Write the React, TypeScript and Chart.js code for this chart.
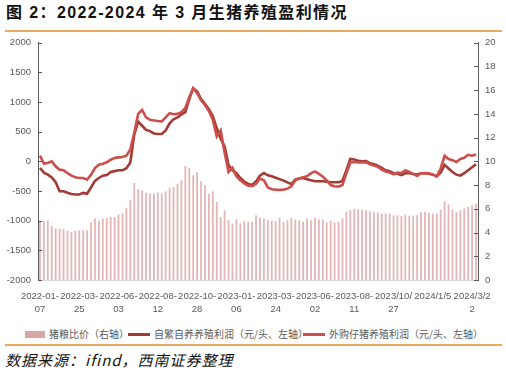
import React, { useEffect, useRef } from 'react';
import { Chart, registerables } from 'chart.js';

Chart.register(...registerables);

// 猪粮比价（右轴）
const pigGrainRatio = [
  4.99, 4.99, 4.99, 4.57, 4.34, 4.34, 4.29, 4.15, 4.06, 4.15,
  4.2, 4.2, 4.2, 4.85, 5.18, 4.99, 5.18, 5.24, 5.32, 5.32,
  5.52, 5.6, 6.08, 6.72, 8.18, 7.65, 7.56, 7.35, 7.28, 7.28,
  7.37, 7.28, 7.48, 7.76, 7.84, 8.12, 8.4, 9.61, 9.44, 8.82,
  9.1, 8.32, 7.98, 7.28, 7.48, 6.6, 5.32, 5.88, 5.04, 4.76,
  5.13, 4.76, 4.96, 4.9, 4.9, 5.46, 5.24, 5.18, 5.04, 4.99,
  4.96, 5.24, 4.9, 5.04, 5.24, 5.1, 5.04, 4.9, 5.18, 5.04,
  5.24, 5.1, 5.1, 4.85, 4.99, 4.85, 4.9, 5.18, 5.74, 5.88,
  6.02, 5.97, 5.94, 5.88, 5.8, 5.74, 5.69, 5.6, 5.6, 5.6,
  5.46, 5.46, 5.38, 5.52, 5.41, 5.41, 5.46, 5.74, 5.74, 5.66,
  5.6, 5.6, 5.94, 6.64, 6.36, 5.94, 5.74, 5.88, 6.02, 6.16,
  6.3, 6.44,
];

// 自繁自养养殖利润（元/头、左轴）
const selfBredProfit = [
  -112, -190, -224, -270, -350, -504, -504, -530, -550, -560,
  -560, -532, -545, -440, -330, -280, -241, -230, -180, -165,
  -151, -151, -115, -20, 450, 672, 600, 530, 510, 470,
  460, 460, 520, 640, 710, 740, 790, 830, 1050, 1230,
  1180, 1050, 970, 880, 760, 560, 380, 250, -60, -150,
  -200, -280, -340, -380, -400, -340, -240, -196, -235, -250,
  -275, -300, -325, -355, -385, -308, -285, -280, -300, -320,
  -336, -336, -336, -345, -353, -353, -353, -330, -150, 40,
  30, 10, 0, 5, -30, -50, -75, -110, -150, -168,
  -200, -210, -230, -200, -200, -213, -220, -200, -200, -210,
  -224, -250, -190, -60, -120, -180, -224, -240, -200, -150,
  -100, -50,
];

// 外购仔猪养殖利润（元/头、左轴）
const purchasedPigletProfit = [
  96, -39, -28, 0, -84, -140, -151, -196, -241, -269,
  -280, -280, -308, -224, -112, -56, -39, -17, 28, 56,
  67, 73, 96, 200, 480, 800, 868, 740, 700, 690,
  680, 672, 740, 812, 795, 800, 830, 900, 1080, 1232,
  1150, 1030, 950, 850, 700, 420, 520, 150, -180, -110,
  -250, -320, -370, -410, -420, -380, -290, -320, -440, -470,
  -476, -480, -476, -460, -420, -320, -290, -270, -250, -200,
  -170, -210, -260, -320, -400, -420, -425, -400, -200, -20,
  -10, -20, -20, -15, -50, -70, -90, -140, -170, -190,
  -220, -190, -196, -150, -180, -210, -245, -200, -196, -200,
  -224, -252, -120, 95, 40, 20, -10, 39, 60, 110,
  95, 115,
];

// x-axis tick labels shown every 10 weeks
const xTickLabels = [
  ['2022-01-', '07'],
  ['2022-03-', '25'],
  ['2022-06-', '03'],
  ['2022-08-', '12'],
  ['2022-10-', '28'],
  ['2023-01-', '06'],
  ['2023-03-', '24'],
  ['2023-06-', '02'],
  ['2023-08-', '11'],
  ['2023/10/', '27'],
  ['2024/1/5'],
  ['2024/3/2', '2'],
];
const tickEvery = 10;

const categories = pigGrainRatio.map((_, i) => `W${i + 1}`);

const legendNames = ['猪粮比价（右轴）', '自繁自养养殖利润（元/头、左轴）', '外购仔猪养殖利润（元/头、左轴）'];

const BAR_COLOR = '#E4B5B4';
const DARK_RED = '#A23A36';
const RED = '#CB4F4A';
const AXIS_TEXT = '#595959';
const FONT = "'Liberation Sans', 'Noto Sans CJK SC', sans-serif";

const innerTicks = {
  id: 'innerTicks',
  afterDraw(chart: any) {
    const { ctx, chartArea, scales } = chart;
    ctx.save();
    ctx.strokeStyle = '#595959';
    ctx.lineWidth = 1;
    const y = scales.y;
    y.ticks.forEach((t: any) => {
      const py = Math.round(y.getPixelForValue(t.value)) + 0.5;
      ctx.beginPath();
      ctx.moveTo(chartArea.left, py);
      ctx.lineTo(chartArea.left + 4, py);
      ctx.stroke();
    });
    const y1 = scales.y1;
    y1.ticks.forEach((t: any) => {
      const py = Math.round(y1.getPixelForValue(t.value)) + 0.5;
      ctx.beginPath();
      ctx.moveTo(chartArea.right - 4, py);
      ctx.lineTo(chartArea.right, py);
      ctx.stroke();
    });
    ctx.restore();
  },
};

export default function App() {
  const canvasRef = useRef<HTMLCanvasElement | null>(null);

  useEffect(() => {
    document.body.style.margin = '0';
    const canvas = canvasRef.current;
    if (!canvas) return;
    const chart = new Chart(canvas, {
      type: 'bar',
      data: {
        labels: categories,
        datasets: [
          {
            type: 'line',
            label: legendNames[2],
            data: purchasedPigletProfit,
            yAxisID: 'y',
            borderColor: RED,
            backgroundColor: RED,
            borderWidth: 2.6,
            pointRadius: 0,
            tension: 0,
            order: 0,
          } as any,
          {
            type: 'line',
            label: legendNames[1],
            data: selfBredProfit,
            yAxisID: 'y',
            borderColor: DARK_RED,
            backgroundColor: DARK_RED,
            borderWidth: 2.6,
            pointRadius: 0,
            tension: 0,
            order: 1,
          } as any,
          {
            type: 'bar',
            label: legendNames[0],
            data: pigGrainRatio,
            yAxisID: 'y1',
            backgroundColor: BAR_COLOR,
            barPercentage: 0.45,
            categoryPercentage: 1,
            order: 2,
          } as any,
        ],
      },
      options: {
        animation: false,
        responsive: false,
        devicePixelRatio: 1,
        layout: { padding: { top: 12, left: 0, right: 0, bottom: 0 } },
        plugins: {
          legend: { display: false },
          tooltip: { enabled: false },
        },
        scales: {
          x: {
            type: 'category',
            offset: true,
            grid: { display: false, drawTicks: false },
            border: { display: true, color: '#D9D9D9', width: 1 },
            ticks: {
              autoSkip: false,
              maxRotation: 0,
              minRotation: 0,
              padding: 10,
              color: AXIS_TEXT,
              font: { family: FONT, size: 9.5, lineHeight: 1.35 },
              callback: (_v: any, i: number) =>
                i % tickEvery === 0 && xTickLabels[i / tickEvery] ? xTickLabels[i / tickEvery] : '',
            },
            afterFit: (s: any) => {
              s.height = 42;
            },
          },
          y: {
            position: 'left',
            min: -2000,
            max: 2000,
            grid: { display: false, drawTicks: false },
            border: { display: true, color: '#595959', width: 1 },
            ticks: {
              stepSize: 500,
              padding: 7,
              color: AXIS_TEXT,
              font: { family: FONT, size: 9.5 },
              callback: (v: any) => String(v),
            },
            afterFit: (s: any) => {
              s.width = 38;
            },
          },
          y1: {
            position: 'right',
            min: 0,
            max: 20,
            grid: { display: false, drawTicks: false },
            border: { display: true, color: '#595959', width: 1 },
            ticks: {
              stepSize: 2,
              padding: 7,
              color: AXIS_TEXT,
              font: { family: FONT, size: 9.5 },
              callback: (v: any) => String(v),
            },
            afterFit: (s: any) => {
              s.width = 28;
            },
          },
        },
      },
      plugins: [innerTicks],
    } as any);
    return () => chart.destroy();
  }, []);

  const legendText: React.CSSProperties = {
    position: 'absolute',
    top: 0,
    fontFamily: "'Noto Sans CJK SC', sans-serif",
    fontSize: 10,
    lineHeight: '14px',
    color: AXIS_TEXT,
    whiteSpace: 'nowrap',
  };

  return (
    <div style={{ position: 'relative', width: 506, height: 376, background: '#fff', overflow: 'hidden' }}>
      <div
        style={{
          position: 'absolute',
          left: 6,
          top: 3,
          fontFamily: "'Liberation Sans', 'Noto Sans CJK SC', sans-serif",
          fontWeight: 'bold',
          fontSize: 16,
          letterSpacing: 1.4,
          lineHeight: '20px',
          color: '#111',
          whiteSpace: 'nowrap',
        }}
      >
        图 2：2022-2024 年 3 月生猪养殖盈利情况
      </div>
      <div style={{ position: 'absolute', left: 5, top: 30, width: 497, height: 2, background: '#E8AA5E' }} />
      <div style={{ position: 'absolute', left: 0, top: 30, width: 506, height: 292 }}>
        <canvas ref={canvasRef} width={506} height={292} style={{ display: 'block' }} />
      </div>
      <div style={{ position: 'absolute', left: 0, top: 327, width: 506, height: 14 }}>
        <div style={{ position: 'absolute', left: 25, top: 4, width: 20, height: 7, background: '#D9A6A6' }} />
        <div style={{ ...legendText, left: 49 }}>{legendNames[0]}</div>
        <div style={{ position: 'absolute', left: 128, top: 6, width: 22, height: 3, background: DARK_RED }} />
        <div style={{ ...legendText, left: 154 }}>{legendNames[1]}</div>
        <div style={{ position: 'absolute', left: 303, top: 6, width: 22, height: 3, background: RED }} />
        <div style={{ ...legendText, left: 329 }}>{legendNames[2]}</div>
      </div>
      <div style={{ position: 'absolute', left: 5, top: 344, width: 497, height: 2, background: '#E8AA5E' }} />
      <div
        style={{
          position: 'absolute',
          left: 5,
          top: 350,
          fontFamily: "'Noto Sans CJK SC', sans-serif",
          fontStyle: 'italic',
          fontSize: 15,
          letterSpacing: 1,
          lineHeight: '20px',
          color: '#111',
          whiteSpace: 'nowrap',
        }}
      >
        数据来源：ifind，西南证券整理
      </div>
    </div>
  );
}
